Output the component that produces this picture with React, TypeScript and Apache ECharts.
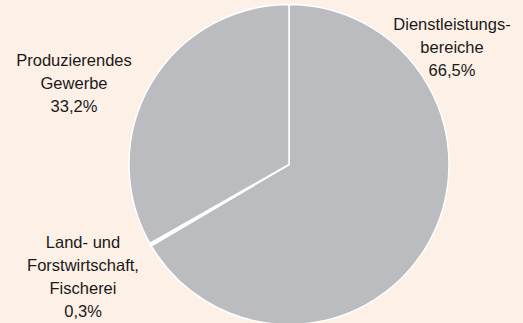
import React, { useEffect, useRef } from "react";
import * as echarts from "echarts";

const categories = ["Dienstleistungs-\nbereiche", "Land- und\nForstwirtschaft,\nFischerei", "Produzierendes\nGewerbe"];
const values = [66.5, 0.3, 33.2];
const sliceColors = ["#bbbcc0", "#ffffff", "#bbbcc0"];
const labelPositions = [
  { x: 452, y: 47 },
  { x: 83, y: 276 },
  { x: 74, y: 83 },
];

export default function App() {
  const ref = useRef<HTMLDivElement>(null);
  useEffect(() => {
    if (!ref.current) return;
    const chart = echarts.init(ref.current, null, { renderer: "svg" });
    chart.setOption({
      animation: false,
      backgroundColor: "#fdf0e6",
      series: [
        {
          type: "pie",
          silent: true,
          center: [289, 164.5],
          radius: [0, 160],
          startAngle: 90,
          clockwise: true,
          avoidLabelOverlap: false,
          itemStyle: { borderColor: "#ffffff", borderWidth: 1.5 },
          label: {
            show: true,
            position: "inside",
            overflow: "none",
            color: "#1a1a1a",
            fontFamily: "Liberation Sans, Arial, sans-serif",
            fontSize: 16.5,
            lineHeight: 23,
            align: "center",
            formatter: (p: any) => `${p.name}\n${p.value.toFixed(1).replace(".", ",")}%`,
          },
          labelLine: { show: false },
          labelLayout: (params: any) => ({
            x: labelPositions[params.dataIndex].x,
            y: labelPositions[params.dataIndex].y,
            align: "center",
            verticalAlign: "middle",
          }),
          emphasis: { disabled: true },
          data: categories.map((name, i) => ({
            name,
            value: values[i],
            itemStyle: { color: sliceColors[i] },
          })),
        },
      ],
    });
    return () => chart.dispose();
  }, []);
  return (
    <div
      ref={ref}
      style={{ position: "fixed", left: 0, top: 0, width: 523, height: 323 }}
    />
  );
}
